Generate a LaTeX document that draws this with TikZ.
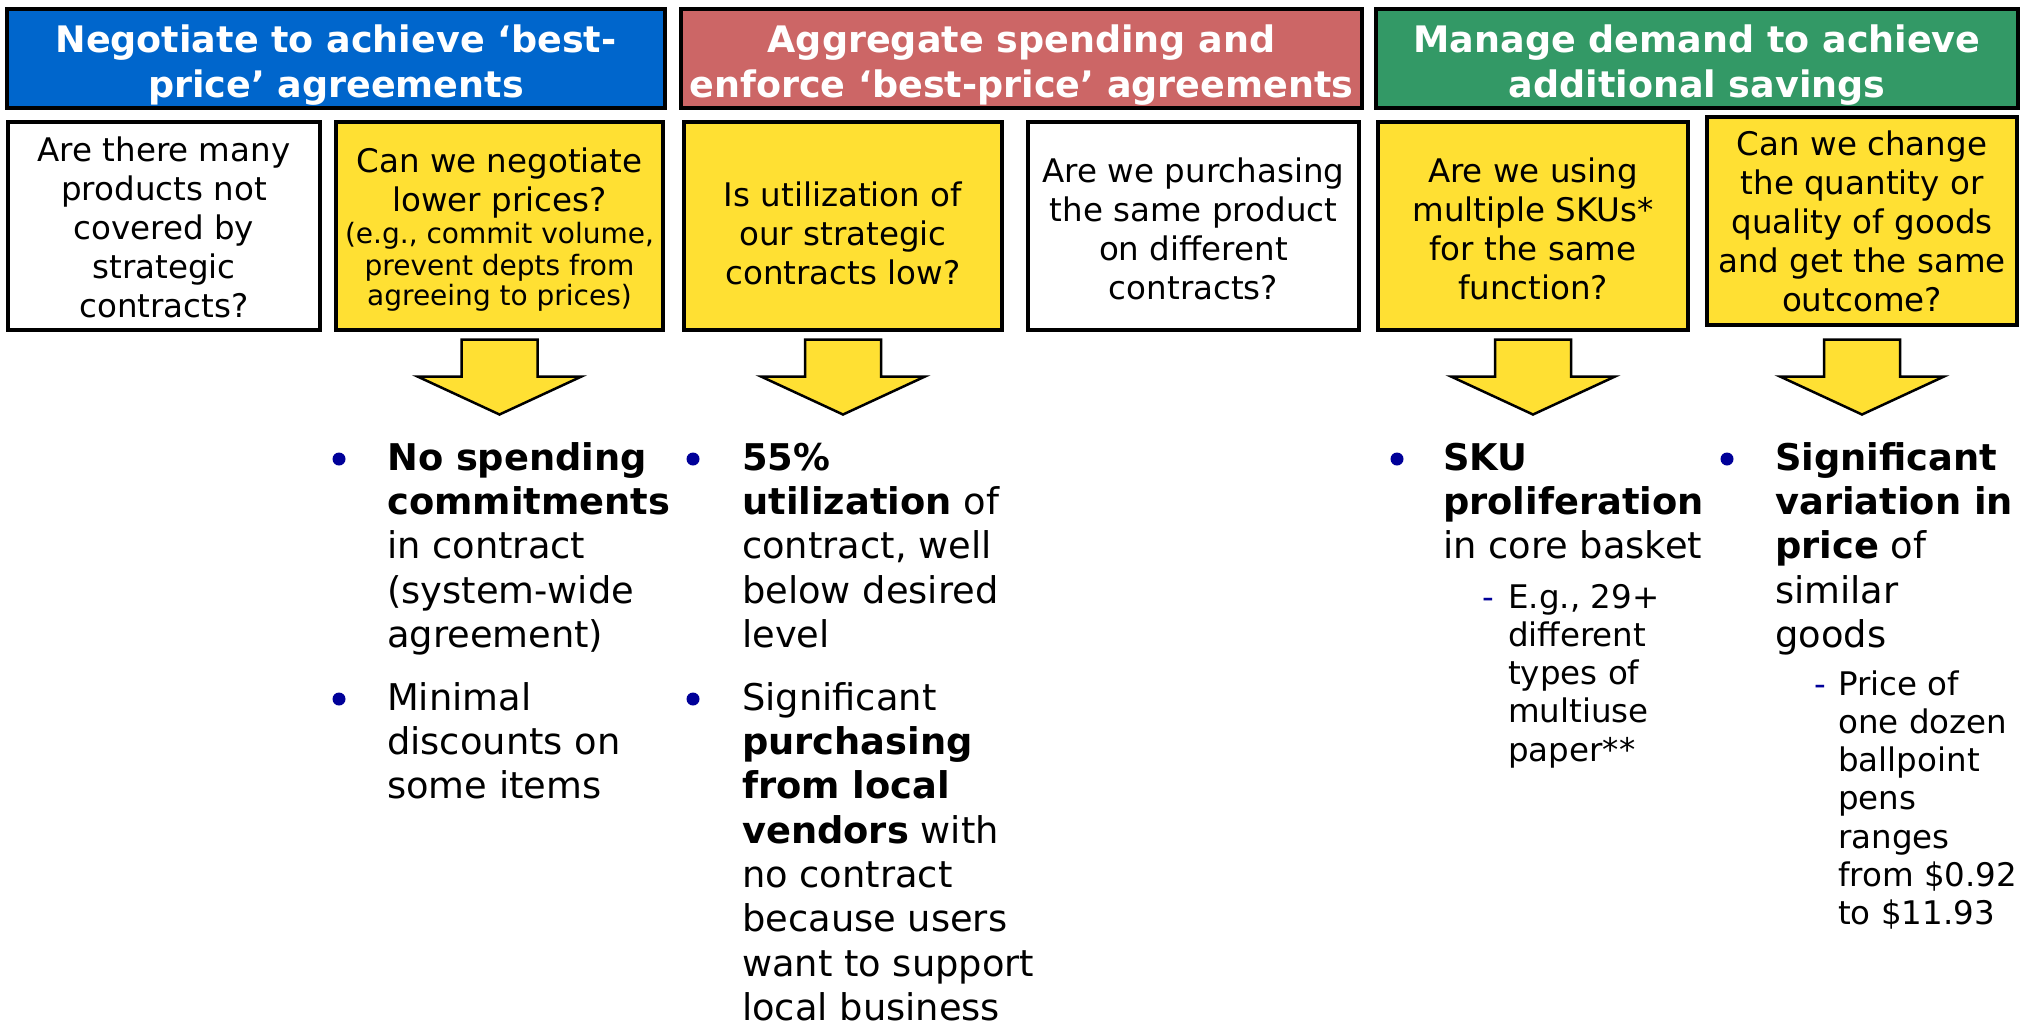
\documentclass[tikz,border=0pt]{standalone}
\usepackage{fontspec}
\setmainfont{DejaVu Sans}
\definecolor{hblue}{HTML}{0066CC}
\definecolor{hred}{HTML}{CC6666}
\definecolor{hgreen}{HTML}{339966}
\definecolor{qyellow}{HTML}{FFE033}
\definecolor{dotblue}{HTML}{000099}
\newcommand\subqfont{\fontsize{28}{31.5}\selectfont}
\begin{document}
\begin{tikzpicture}[x=1pt,y=-1pt,
  hdrbox/.style={draw=black, line width=4pt, inner sep=0pt, minimum height=99pt},
  hdrtext/.style={anchor=north, inner sep=0pt, align=center, text=white, font=\bfseries\fontsize{36.5}{45}\selectfont},
  qbox/.style={draw=black, line width=4pt, inner sep=0pt, minimum height=208pt},
  qtext/.style={anchor=north, inner sep=0pt, align=center, font=\fontsize{32.5}{39}\selectfont},
  btext/.style={anchor=north west, inner sep=0pt, align=left, font=\fontsize{36.8}{44.3}\selectfont},
  stext/.style={anchor=north west, inner sep=0pt, align=left, font=\fontsize{32.5}{38.2}\selectfont},
  bdot/.style={circle, fill=dotblue, inner sep=0pt, minimum size=13pt},
  sdash/.style={anchor=base, inner sep=0pt, text=dotblue, font=\fontsize{32.5}{38.2}\selectfont},
  bigarrow/.style={draw=black, line width=2.5pt, fill=qyellow, line join=miter}
]
\useasboundingbox (0,0) rectangle (2023,1026);
\fill[white] (0,0) rectangle (2023,1026);

% headers
\node[hdrbox, fill=hblue, minimum width=658pt] (h1) at (336,58.5) {};
\node[hdrbox, fill=hred, minimum width=681pt] (h2) at (1021.5,58.5) {};
\node[hdrbox, fill=hgreen, minimum width=642pt] (h3) at (1697,58.5) {};
\node[hdrtext] (h1t) at (336,20.5) {\strut Negotiate to achieve ‘best-\\price’ agreements};
\node[hdrtext] (h2t) at (1021.5,20.5) {\strut Aggregate spending and\\enforce ‘best-price’ agreements};
\node[hdrtext] (h3t) at (1697,20.5) {\strut Manage demand to achieve\\additional savings};

% question boxes
\node[qbox, fill=white, minimum width=312pt] (q1) at (164,226) {};
\node[qbox, fill=qyellow, minimum width=327pt] (q2) at (499.5,225.5) {};
\node[qbox, fill=qyellow, minimum width=318pt] (q3) at (843,225.5) {};
\node[qbox, fill=white, minimum width=331pt] (q4) at (1193.5,225.5) {};
\node[qbox, fill=qyellow, minimum width=310pt] (q5) at (1533,225.5) {};
\node[qbox, fill=qyellow, minimum width=310pt] (q6) at (1862,220.5) {};

\node[qtext] (q1t) at (164,133.7) {\strut Are there many\\products not\\covered by\\strategic\\contracts?};
\node[qtext] (q2t) at (499.5,144.7) {\strut Can we negotiate\\lower prices?\\[-7pt]{\subqfont (e.g., commit volume,}\\[-7pt]{\subqfont prevent depts from}\\[-9pt]{\subqfont agreeing to prices)}};
\node[qtext] (q3t) at (843,178.7) {\strut Is utilization of\\our strategic\\contracts low?};
\node[qtext] (q4t) at (1193.5,154.7) {\strut Are we purchasing\\the same product\\on different\\contracts?};
\node[qtext] (q5t) at (1533,154.7) {\strut Are we using\\multiple SKUs*\\for the same\\function?};
\node[qtext] (q6t) at (1862,127.7) {\strut Can we change\\the quantity or\\quality of goods\\and get the same\\outcome?};

% block arrows
\foreach \b/\dy in {q2/8, q3/8, q5/8, q6/13}{
  \draw[bigarrow] ([shift={(-38,\dy)}]\b.south) -- ++(76,0) -- ++(0,37) -- ++(44,0)
     -- ++(-82,38) -- ++(-82,-38) -- ++(44,0) -- cycle;
}

% column 1
\node[bdot] (d1a) at (339,459) {};
\node[btext] (t1a) at (387,439) {\strut\textbf{No spending}\\\textbf{commitments}\\in contract\\(system-wide\\agreement)};
\node[bdot] (d1b) at (339,699) {};
\node[btext] (t1b) at (387,679) {\strut Minimal\\discounts on\\some items};

% column 2
\node[bdot] (d2a) at (693,459) {};
\node[btext] (t2a) at (742,439) {\strut\textbf{55\%}\\\textbf{utilization} of\\contract, well\\below desired\\level};
\node[bdot] (d2b) at (693,699) {};
\node[btext] (t2b) at (742,679) {\strut Significant\\\textbf{purchasing}\\\textbf{from local}\\\textbf{vendors} with\\no contract\\because users\\want to support\\local business};

% column 3
\node[bdot] (d3a) at (1397,459) {};
\node[btext] (t3a) at (1443,439) {\strut\textbf{SKU}\\\textbf{proliferation}\\in core basket};
\node[sdash] (s3) at (1488,608) {-};
\node[stext] (t3s) at (1508,581.3) {\strut E.g., 29+\\different\\types of\\multiuse\\paper**};

% column 4
\node[bdot] (d4a) at (1727,459) {};
\node[btext] (t4a) at (1775,439) {\strut\textbf{Significant}\\\textbf{variation in}\\\textbf{price} of\\similar\\goods};
\node[sdash] (s4) at (1820,695) {-};
\node[stext] (t4s) at (1838,668.3) {\strut Price of\\one dozen\\ballpoint\\pens\\ranges\\from \$0.92\\to \$11.93};
\end{tikzpicture}
\end{document}
